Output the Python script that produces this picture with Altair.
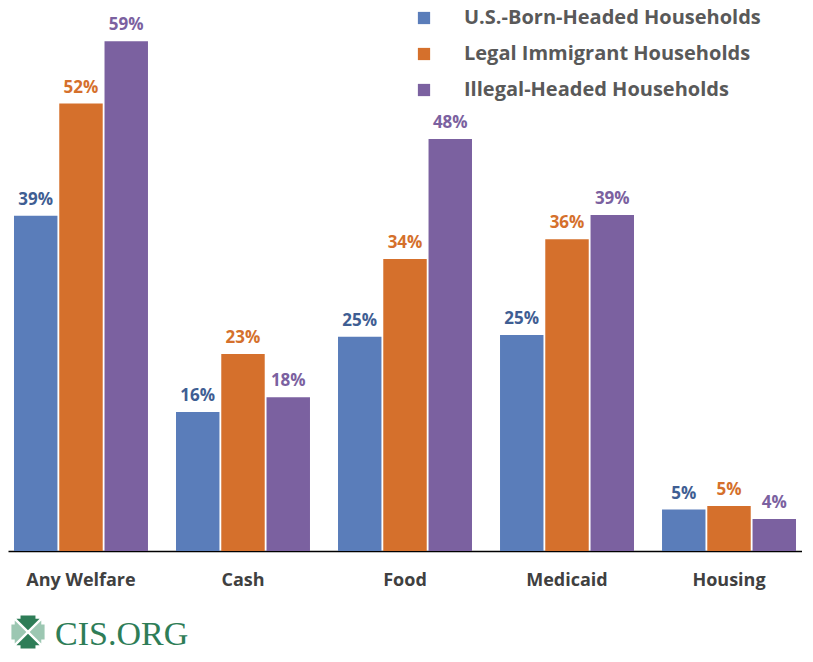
import altair as alt
import pandas as pd

categories = ["Any Welfare", "Cash", "Food", "Medicaid", "Housing"]
groups = ["U.S.-Born-Headed Households", "Legal Immigrant Households", "Illegal-Headed Households"]
us_born = [0.388, 0.161, 0.248, 0.250, 0.048]
legal = [0.518, 0.228, 0.338, 0.361, 0.052]
illegal = [0.590, 0.178, 0.477, 0.389, 0.037]
bar_colors = ["#5a7dba", "#d5702c", "#7b61a0"]
label_colors = ["#3f5e93", "#d5702c", "#7b61a0"]

rows = []
for gi, (g, vals) in enumerate(zip(groups, [us_born, legal, illegal])):
    for c, v in zip(categories, vals):
        rows.append({"category": c, "group": g, "value": v, "gidx": gi, "lcolor": label_colors[gi]})
df = pd.DataFrame(rows)

FONT = "Open Sans"

x = alt.X("category:N", sort=categories, title=None,
          scale=alt.Scale(paddingInner=0.173, paddingOuter=0.037),
          axis=alt.Axis(labelFont=FONT, labelFontSize=18, labelFontWeight="bold",
                        labelColor="#404040", labelPadding=20, ticks=False,
                        domainColor="#000000", domainWidth=1.5, labelAngle=0))
xo = alt.XOffset("group:N", sort=groups, scale=alt.Scale(paddingInner=0.04))
y = alt.Y("value:Q", axis=None, scale=alt.Scale(domain=[0, 0.624], nice=False, zero=True))

bars = alt.Chart(df).mark_bar().encode(
    x=x, xOffset=xo, y=y,
    color=alt.Color("group:N", sort=groups,
                    scale=alt.Scale(domain=groups, range=bar_colors),
                    legend=alt.Legend(title=None, orient="none", legendX=406, legendY=-4,
                                      symbolType="square", symbolSize=150, symbolStrokeWidth=0,
                                      labelFont=FONT, labelFontSize=20, labelFontWeight="bold",
                                      labelColor="#595959", labelOffset=30, rowPadding=16,
                                      labelLimit=400)),
)

labels = alt.Chart(df).mark_text(font=FONT, fontSize=17, fontWeight="bold", dy=-7,
                                 baseline="bottom").encode(
    x=x, xOffset=xo, y=y,
    text=alt.Text("value:Q", format=".0%"),
    color=alt.Color("lcolor:N", scale=None),
)

logo_df = pd.DataFrame({"name": ["CIS.ORG"]})
dark_path = ("M -0.45 -1 L 0.45 -1 L 0.45 -0.8 L 0.7 -0.8 L 0 -0.1 L -0.7 -0.8 L -0.45 -0.8 Z "
             "M -0.45 1 L 0.45 1 L 0.45 0.8 L 0.7 0.8 L 0 0.1 L -0.7 0.8 L -0.45 0.8 Z")
light_path = ("M -1 -0.45 L -1 0.45 L -0.8 0.45 L -0.8 0.7 L -0.1 0 L -0.8 -0.7 L -0.8 -0.45 Z "
              "M 1 -0.45 L 1 0.45 L 0.8 0.45 L 0.8 0.7 L 0.1 0 L 0.8 -0.7 L 0.8 -0.45 Z")
icon_dark = alt.Chart(logo_df).mark_point(shape=dark_path, filled=True, size=1100,
                                          color="#2e7d57", opacity=1).encode(
    x=alt.value(20), y=alt.value(620))
icon_light = alt.Chart(logo_df).mark_point(shape=light_path, filled=True, size=1100,
                                           color="#9cc7b2", opacity=1).encode(
    x=alt.value(20), y=alt.value(620))
logo_text = alt.Chart(logo_df).mark_text(font="Liberation Serif", fontSize=34, color="#2e7d57",
                                         align="left", baseline="alphabetic").encode(
    x=alt.value(47), y=alt.value(633), text="name:N")

chart = alt.layer(bars, labels, icon_dark, icon_light, logo_text).properties(
    width=794, height=539
).configure(padding=0, view=alt.ViewConfig(stroke=None))

chart.save("out.html", embed_options={"renderer": "svg", "actions": False})
